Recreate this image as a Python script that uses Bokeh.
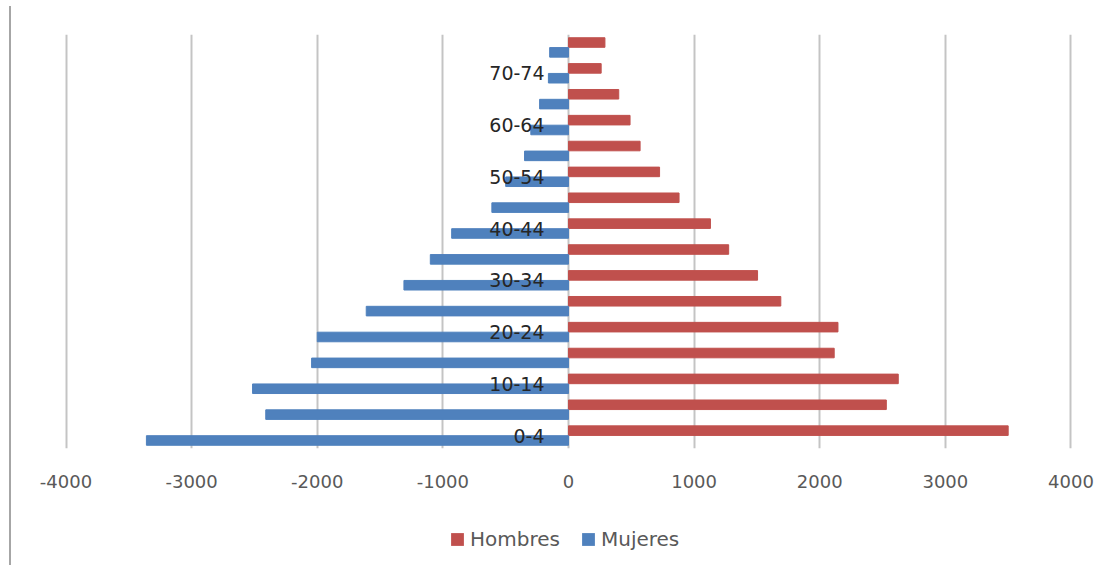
from bokeh.plotting import figure
from bokeh.models import (ColumnDataSource, FactorRange, Range1d, FixedTicker,
                          Legend, LegendItem, Div)
from bokeh.layouts import row, column
from bokeh.transform import dodge
from bokeh.core.properties import value
from bokeh.embed import file_html
from bokeh.resources import INLINE

# ---- data ----
age_groups = ["0-4", "5-9", "10-14", "15-19", "20-24", "25-29", "30-34", "35-39",
              "40-44", "45-49", "50-54", "55-59", "60-64", "65-69", "70-74", "75-79"]
hombres = [3500, 2530, 2625, 2115, 2145, 1690, 1505, 1275,
           1130, 880, 725, 570, 490, 400, 260, 290]
mujeres = [3360, 2410, 2515, 2045, 2000, 1610, 1310, 1100,
           930, 610, 500, 350, 300, 230, 160, 150]
shown_labels = ["0-4", "10-14", "20-24", "30-34", "40-44", "50-54", "60-64", "70-74"]
x_ticks = [-4000, -3000, -2000, -1000, 0, 1000, 2000, 3000, 4000]
series_names = ["Hombres", "Mujeres"]

RED = "#C0504D"
BLUE = "#4F81BD"
FONT = "DejaVu Sans"

src = ColumnDataSource(dict(
    age=age_groups,
    hombres=hombres,
    mujeres=mujeres,
    mujeres_neg=[-v for v in mujeres],
    zero=[0] * len(age_groups),
))
lab_src = ColumnDataSource(dict(age=shown_labels, x=[0] * len(shown_labels)))

# ---- main chart ----
p = figure(width=1100, height=510, output_backend="svg", toolbar_location=None,
           x_range=Range1d(-4020, 4020), y_range=FactorRange(factors=age_groups),
           min_border_left=51, min_border_right=39, min_border_top=34,
           min_border_bottom=62)
p.outline_line_color = None

p.hbar(y=dodge("age", 0.19, range=p.y_range), left="zero", right="hombres",
       height=0.37, color=RED, source=src)
p.hbar(y=dodge("age", -0.19, range=p.y_range), left="mujeres_neg", right="zero",
       height=0.37, color=BLUE, source=src)

p.text(x="x", y="age", text="age", source=lab_src, x_offset=-24,
       text_align="right", text_baseline="middle", text_font=value(FONT),
       text_font_size="19px", text_color="#262626")

p.yaxis.visible = False
p.ygrid.grid_line_color = None
p.xgrid.grid_line_color = "#c4c4c4"
p.xgrid.grid_line_width = 2
p.xaxis.ticker = FixedTicker(ticks=x_ticks)
p.xaxis.major_label_overrides = {t: str(t) for t in x_ticks}
p.xaxis.axis_line_color = None
p.xaxis.major_tick_line_color = None
p.xaxis.minor_tick_line_color = None
p.xaxis.major_label_standoff = 20
p.xaxis.major_label_text_font = FONT
p.xaxis.major_label_text_font_size = "18px"
p.xaxis.major_label_text_color = "#595959"

# ---- legend strip (the series are drawn here outside the visible ranges,
#      only their legend swatches show) ----
lg = figure(width=1100, height=55, output_backend="svg", toolbar_location=None,
            x_range=Range1d(-2, -1), y_range=Range1d(5, 6),
            min_border=0)
lg.axis.visible = False
lg.grid.visible = False
lg.outline_line_color = None
r_h = lg.hbar(y="zero", left="zero", right="hombres", height=0.5,
              fill_color=RED, line_color=None, source=src)
r_m = lg.hbar(y="zero", left="zero", right="mujeres", height=0.5,
              fill_color=BLUE, line_color=None, source=src)

legend = Legend(items=[LegendItem(label=series_names[0], renderers=[r_h]),
                       LegendItem(label=series_names[1], renderers=[r_m])],
                orientation="horizontal", location=(386, 14),
                label_text_font=FONT, label_text_font_size="20px",
                label_text_color="#595959", glyph_width=16, glyph_height=16,
                label_standoff=5, spacing=20, border_line_color=None,
                background_fill_alpha=0, padding=4, margin=0)
lg.add_layout(legend, "center")

left_line = Div(width=3, height=559, margin=(6, 0, 0, 9),
                styles={"border-left": "2px solid #a6a6a6", "box-sizing": "border-box"})

layout = row(left_line, column(p, lg, spacing=0))
open("out.html", "w").write(file_html(layout, INLINE))
